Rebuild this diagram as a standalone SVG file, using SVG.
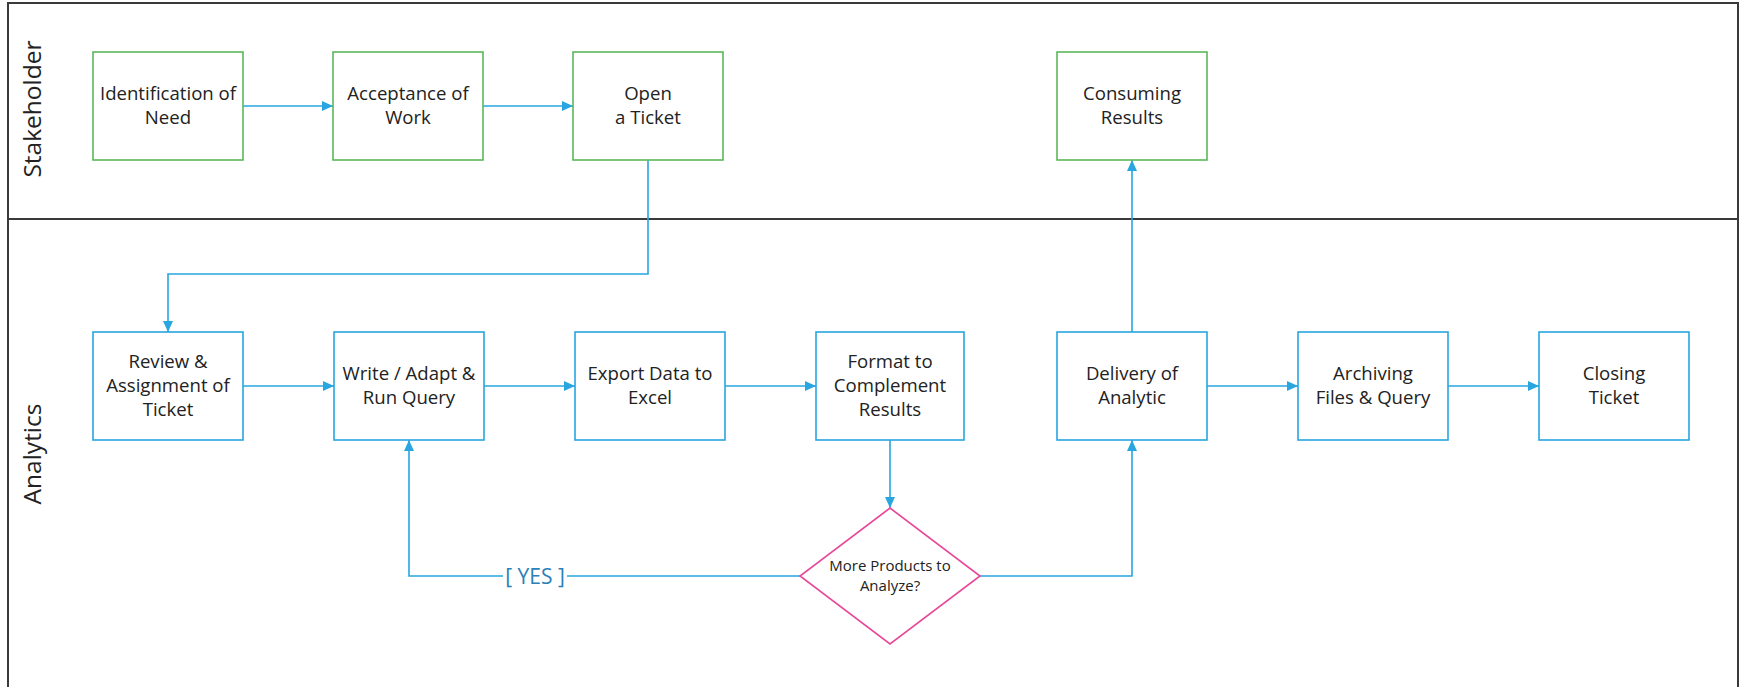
<svg xmlns="http://www.w3.org/2000/svg" width="1741" height="687" viewBox="0 0 1741 687">
  <style>
    .lane { fill: none; stroke: #3a3a3a; stroke-width: 2; }
    .lane-label { font-family: "Open Sans", "Noto Sans", sans-serif; font-size: 24.5px; fill: #222; text-anchor: middle; dominant-baseline: central; }
    .stake { fill: #fff; stroke: #5cb85c; stroke-width: 1.6; }
    .task { fill: #fff; stroke: #29a6e0; stroke-width: 1.6; }
    .decision { fill: #fff; stroke: #e8479a; stroke-width: 1.6; }
    .label { font-family: "Open Sans", "Noto Sans", sans-serif; font-size: 18.6px; fill: #222; text-anchor: middle; }
    .small { font-size: 15px; }
    .edge { fill: none; stroke: #29a6e0; stroke-width: 1.6; }
    .guard { font-family: "Open Sans", "Noto Sans", sans-serif; font-size: 21px; fill: #2a80b9; text-anchor: middle; dominant-baseline: central; }
  </style>
  <defs>
    <marker id="arrow" viewBox="0 0 11 10" refX="11" refY="5" markerWidth="11" markerHeight="10" markerUnits="userSpaceOnUse" orient="auto">
      <path d="M0,0 L11,5 L0,10 z" fill="#29a6e0"/>
    </marker>
  </defs>

  <rect width="1741" height="687" fill="#fff"/>

  <!-- swimlanes -->
  <g id="lanes">
    <rect class="lane" x="8" y="3" width="1730" height="216"/>
    <rect class="lane" x="8" y="219" width="1730" height="480"/>
    <text class="lane-label" transform="translate(31,109) rotate(-90)">Stakeholder</text>
    <text class="lane-label" transform="translate(31,454) rotate(-90)">Analytics</text>
  </g>

  <!-- connectors -->
  <g id="connectors">
    <path class="edge" d="M243,106 H333" marker-end="url(#arrow)"/>
    <path class="edge" d="M483,106 H573" marker-end="url(#arrow)"/>
    <path class="edge" d="M648,160 V274 H168 V332" marker-end="url(#arrow)"/>
    <path class="edge" d="M243,386 H334" marker-end="url(#arrow)"/>
    <path class="edge" d="M484,386 H575" marker-end="url(#arrow)"/>
    <path class="edge" d="M725,386 H816" marker-end="url(#arrow)"/>
    <path class="edge" d="M890,440 V508" marker-end="url(#arrow)"/>
    <path class="edge" d="M800,576 H409 V440" marker-end="url(#arrow)"/>
    <path class="edge" d="M980,576 H1132 V440" marker-end="url(#arrow)"/>
    <path class="edge" d="M1132,332 V160" marker-end="url(#arrow)"/>
    <path class="edge" d="M1207,386 H1298" marker-end="url(#arrow)"/>
    <path class="edge" d="M1448,386 H1539" marker-end="url(#arrow)"/>
    <rect x="503" y="563" width="64" height="26" fill="#fff"/>
    <text class="guard" x="535" y="576">[ YES ]</text>
  </g>

  <!-- stakeholder lane -->
  <g id="identification-of-need">
    <rect class="stake" x="93" y="52" width="150" height="108"/>
    <text class="label" x="168" y="100">Identification of</text>
    <text class="label" x="168" y="124">Need</text>
  </g>
  <g id="acceptance-of-work">
    <rect class="stake" x="333" y="52" width="150" height="108"/>
    <text class="label" x="408" y="100">Acceptance of</text>
    <text class="label" x="408" y="124">Work</text>
  </g>
  <g id="open-a-ticket">
    <rect class="stake" x="573" y="52" width="150" height="108"/>
    <text class="label" x="648" y="100">Open</text>
    <text class="label" x="648" y="124">a Ticket</text>
  </g>
  <g id="consuming-results">
    <rect class="stake" x="1057" y="52" width="150" height="108"/>
    <text class="label" x="1132" y="100">Consuming</text>
    <text class="label" x="1132" y="124">Results</text>
  </g>

  <!-- analytics lane -->
  <g id="review-assignment">
    <rect class="task" x="93" y="332" width="150" height="108"/>
    <text class="label" x="168" y="368">Review &amp;</text>
    <text class="label" x="168" y="392">Assignment of</text>
    <text class="label" x="168" y="416">Ticket</text>
  </g>
  <g id="write-adapt-run-query">
    <rect class="task" x="334" y="332" width="150" height="108"/>
    <text class="label" x="409" y="380">Write / Adapt &amp;</text>
    <text class="label" x="409" y="404">Run Query</text>
  </g>
  <g id="export-data">
    <rect class="task" x="575" y="332" width="150" height="108"/>
    <text class="label" x="650" y="380">Export Data to</text>
    <text class="label" x="650" y="404">Excel</text>
  </g>
  <g id="format-results">
    <rect class="task" x="816" y="332" width="148" height="108"/>
    <text class="label" x="890" y="368">Format to</text>
    <text class="label" x="890" y="392">Complement</text>
    <text class="label" x="890" y="416">Results</text>
  </g>
  <g id="delivery-of-analytic">
    <rect class="task" x="1057" y="332" width="150" height="108"/>
    <text class="label" x="1132" y="380">Delivery of</text>
    <text class="label" x="1132" y="404">Analytic</text>
  </g>
  <g id="archiving">
    <rect class="task" x="1298" y="332" width="150" height="108"/>
    <text class="label" x="1373" y="380">Archiving</text>
    <text class="label" x="1373" y="404">Files &amp; Query</text>
  </g>
  <g id="closing-ticket">
    <rect class="task" x="1539" y="332" width="150" height="108"/>
    <text class="label" x="1614" y="380">Closing</text>
    <text class="label" x="1614" y="404">Ticket</text>
  </g>
  <g id="more-products">
    <polygon class="decision" points="890,508 980,576 890,644 800,576"/>
    <text class="label small" x="890" y="571">More Products to</text>
    <text class="label small" x="890" y="591">Analyze?</text>
  </g>
</svg>
